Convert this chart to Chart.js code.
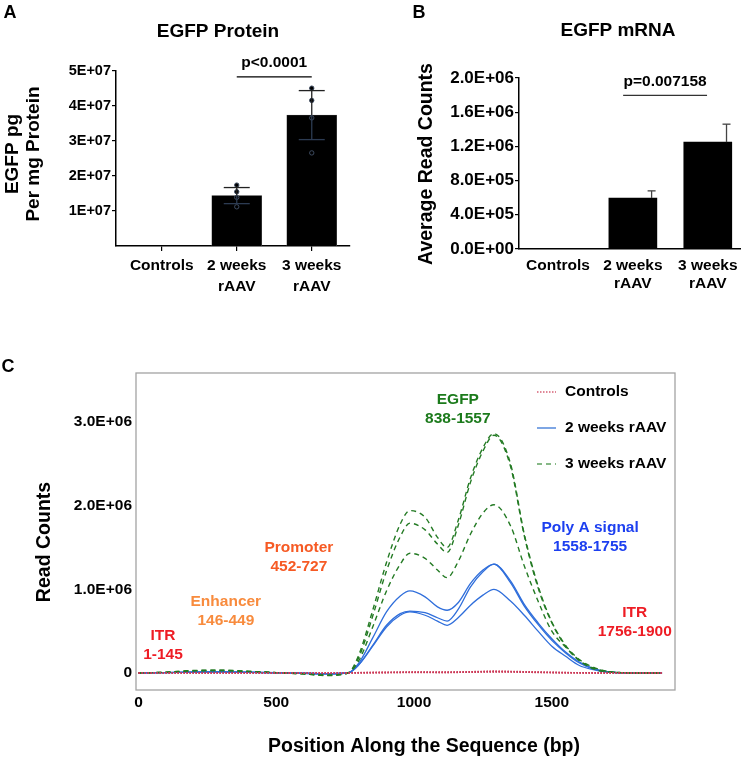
<!DOCTYPE html>
<html>
<head>
<meta charset="utf-8">
<script src="https://cdn.jsdelivr.net/npm/chart.js@4.4.1/dist/chart.umd.min.js"></script>
<style>
  html, body { margin: 0; padding: 0; background: #fff; }
  #page { position: relative; width: 748px; height: 759px; overflow: hidden; }
  .panel { position: absolute; }
</style>
</head>
<body>
<div id="page">
  <div class="panel" style="left:0;top:0;width:370px;height:300px"><canvas id="protein"></canvas></div>
  <div class="panel" style="left:370px;top:0;width:378px;height:300px"><canvas id="mrna"></canvas></div>
  <div class="panel" style="left:0;top:330px;width:748px;height:429px"><canvas id="coverage"></canvas></div>
</div>
<script>
// ---- data -----------------------------------------------------------------
var groups = ['Controls', '2 weeks rAAV', '3 weeks rAAV'];
var groupTickLabels = ['Controls', ['2 weeks', 'rAAV'], ['3 weeks', 'rAAV']];
var groupIndex = [0, 1, 2];

// A: EGFP protein (pg per mg protein)
var proteinMean = [0, 1.44e7, 3.74e7];
var proteinSD = [0, 0.23e7, 0.70e7];
var proteinDots2w = [1.74e7, 1.55e7, 1.39e7, 1.12e7];
var proteinDots3w = [4.51e7, 4.16e7, 3.66e7, 2.66e7];
var proteinTicks = [1e7, 2e7, 3e7, 4e7, 5e7];
var proteinTickLabels = ['1E+07', '2E+07', '3E+07', '4E+07', '5E+07'];
var proteinP = 'p<0.0001';

// B: EGFP mRNA (average read counts)
var mrnaMean = [3e3, 5.96e5, 1.25e6];
var mrnaSD = [0, 0.84e5, 2.1e5];
var mrnaTicks = [0, 4e5, 8e5, 1.2e6, 1.6e6, 2e6];
var mrnaTickLabels = ['0.0E+00', '4.0E+05', '8.0E+05', '1.2E+06', '1.6E+06', '2.0E+06'];
var mrnaP = 'p=0.007158';

// C: read coverage along the vector (read counts, millions)
var pos = [0, 100, 200, 300, 400, 500, 600, 680, 760, 800, 850, 900, 950, 985, 1040, 1085, 1120,
           1160, 1205, 1250, 1290, 1350, 1400, 1450, 1500, 1550, 1600, 1650, 1700, 1750, 1800, 1900];
var ctrlA = [0, 0, 0, 0, 0, 0, 0, 0, 0.002, 0.004, 0.006, 0.008, 0.01, 0.011, 0.011, 0.01, 0.01,
             0.012, 0.015, 0.019, 0.022, 0.019, 0.015, 0.011, 0.008, 0.005, 0.003, 0.002, 0.001, 0, 0, 0];
var ctrlB = [0, 0, 0, 0, 0, 0, 0, 0, 0.001, 0.003, 0.005, 0.006, 0.008, 0.009, 0.009, 0.008, 0.008,
             0.01, 0.012, 0.015, 0.017, 0.015, 0.012, 0.009, 0.006, 0.004, 0.002, 0.001, 0, 0, 0, 0];
var ctrlC = [0, 0, 0, 0, 0, 0, 0, 0, 0.001, 0.002, 0.004, 0.005, 0.006, 0.007, 0.007, 0.006, 0.006,
             0.008, 0.01, 0.012, 0.014, 0.012, 0.01, 0.007, 0.005, 0.003, 0.002, 0.001, 0, 0, 0, 0];
var wk2A = [0, 0.005, 0.012, 0.015, 0.01, 0.003, -0.003, -0.01, 0, 0.12, 0.42, 0.73, 0.92, 0.98, 0.91, 0.79, 0.75,
            0.84, 1.07, 1.23, 1.30, 1.10, 0.82, 0.60, 0.41, 0.25, 0.13, 0.055, 0.015, 0.004, 0, 0];
var wk2B = [0, 0.005, 0.011, 0.014, 0.009, 0.003, -0.003, -0.01, 0, 0.10, 0.33, 0.57, 0.71, 0.74, 0.72, 0.66, 0.62,
            0.76, 1.03, 1.21, 1.30, 1.08, 0.80, 0.58, 0.39, 0.24, 0.12, 0.05, 0.015, 0.004, 0, 0];
var wk2C = [0, 0.004, 0.01, 0.013, 0.008, 0.002, -0.003, -0.009, 0, 0.10, 0.32, 0.55, 0.69, 0.73, 0.69, 0.62, 0.57,
            0.66, 0.81, 0.93, 1.00, 0.86, 0.69, 0.50, 0.32, 0.20, 0.09, 0.04, 0.01, 0.003, 0, 0];
var wk3A = [0, 0.01, 0.03, 0.035, 0.02, 0.005, -0.01, -0.03, 0, 0.22, 0.75, 1.32, 1.78, 1.94, 1.86, 1.62, 1.50,
            1.82, 2.33, 2.69, 2.86, 2.50, 1.66, 1.04, 0.61, 0.33, 0.16, 0.07, 0.02, 0.005, 0, 0];
var wk3B = [0, 0.01, 0.028, 0.03, 0.02, 0.005, -0.01, -0.028, 0, 0.19, 0.68, 1.22, 1.63, 1.79, 1.71, 1.54, 1.44,
            1.76, 2.28, 2.65, 2.84, 2.47, 1.64, 1.02, 0.60, 0.32, 0.15, 0.06, 0.02, 0.005, 0, 0];
var wk3C = [0, 0.008, 0.025, 0.03, 0.018, 0.004, -0.01, -0.025, 0, 0.15, 0.55, 0.98, 1.30, 1.43, 1.37, 1.23, 1.14,
            1.33, 1.66, 1.91, 2.01, 1.76, 1.28, 0.86, 0.50, 0.31, 0.15, 0.05, 0.015, 0.005, 0, 0];
var coverageTicks = [0, 1, 2, 3];
var coverageTickLabels = ['0', '1.0E+06', '2.0E+06', '3.0E+06'];
var positionTicks = [0, 500, 1000, 1500];
var positionTickLabels = ['0', '500', '1000', '1500'];

// vector elements: label lines, centre (bp) and height of first line (millions)
var regions = [
  { lines: ['ITR', '1-145'], bp: 89, y: 0.45, color: '#ee1c24' },
  { lines: ['Enhancer', '146-449'], bp: 317, y: 0.85, color: '#f88b3d' },
  { lines: ['Promoter', '452-727'], bp: 582, y: 1.50, color: '#f65a24' },
  { lines: ['EGFP', '838-1557'], bp: 1159, y: 3.27, color: '#1b7a1b' },
  { lines: ['Poly A signal', '1558-1755'], bp: 1639, y: 1.74, color: '#1c3ff0' },
  { lines: ['ITR', '1756-1900'], bp: 1801, y: 0.72, color: '#ee1c24' }
];

// ---- helpers --------------------------------------------------------------
var FONT = "'Liberation Sans', Arial, Helvetica, sans-serif";
Chart.defaults.font.family = FONT;
Chart.defaults.font.weight = 'bold';
Chart.defaults.color = '#000';
Chart.defaults.animation = false;
Chart.defaults.plugins.legend.display = false;
Chart.defaults.plugins.tooltip.enabled = false;

function text(ctx, str, x, y, size, color, rotate) {
  ctx.save();
  ctx.font = 'bold ' + size + 'px ' + FONT;
  ctx.fillStyle = color || '#000';
  ctx.textAlign = 'center';
  ctx.textBaseline = 'middle';
  ctx.translate(x, y);
  if (rotate) ctx.rotate(-Math.PI / 2);
  ctx.fillText(str, 0, 0);
  ctx.restore();
}

function line(ctx, x1, y1, x2, y2, color, width) {
  ctx.beginPath();
  ctx.moveTo(x1, y1);
  ctx.lineTo(x2, y2);
  ctx.strokeStyle = color;
  ctx.lineWidth = width;
  ctx.stroke();
}

function fixedTicks(values) {
  return function (scale) { scale.ticks = values.map(function (v) { return { value: v }; }); };
}

function axisStyle(extra) {
  return Object.assign({
    grid: { display: true, drawOnChartArea: false, drawTicks: true, tickLength: 4, color: '#000', lineWidth: 1.2, offset: false },
    border: { display: true, color: '#000', width: 1.5 }
  }, extra);
}

// ---- A: protein -----------------------------------------------------------
new Chart(document.getElementById('protein'), {
  type: 'bar',
  data: {
    datasets: [
      {
        type: 'scatter',
        data: proteinDots2w.map(function (v) { return { x: 1, y: v }; })
          .concat(proteinDots3w.map(function (v) { return { x: 2, y: v }; })),
        pointRadius: 2.2, pointBackgroundColor: '#000', pointBorderColor: '#3d4b60', pointBorderWidth: 1
      },
      {
        type: 'bar',
        data: groupIndex.map(function (i) { return { x: i, y: proteinMean[i] }; }),
        backgroundColor: '#000', borderColor: '#555', borderWidth: 0.6, barThickness: 50
      }
    ]
  },
  options: {
    responsive: true, maintainAspectRatio: false,
    layout: { padding: { top: 71, right: 20, bottom: 0, left: 0 } },
    scales: {
      x: axisStyle({
        type: 'linear', min: -0.61, max: 2.51, offset: false,
        afterBuildTicks: fixedTicks(groupIndex),
        afterFit: function (s) { s.height = 54; },
        grid: { display: true, drawOnChartArea: false, tickLength: 5, color: '#000', lineWidth: 1.2, offset: false },
        ticks: {
          callback: function (v) { return groupTickLabels[v]; },
          font: { size: 15.5, weight: 'bold', lineHeight: 1.3 }, padding: 5, maxRotation: 0, autoSkip: false
        }
      }),
      y: axisStyle({
        min: 0, max: 5e7,
        afterBuildTicks: fixedTicks(proteinTicks),
        afterFit: function (s) { s.width = 116; },
        ticks: {
          callback: function (v, i) { return proteinTickLabels[i]; },
          font: { size: 14.5, weight: 'bold' }, padding: 1, autoSkip: false
        }
      })
    }
  },
  plugins: [{
    id: 'proteinOverlay',
    afterDatasetsDraw: function (chart) {
      var ctx = chart.ctx, x = chart.scales.x, y = chart.scales.y;
      proteinMean.forEach(function (m, i) {
        var sd = proteinSD[i];
        if (!sd) return;
        var px = x.getPixelForValue(i);
        var top = y.getPixelForValue(m + sd), mid = y.getPixelForValue(m), bot = y.getPixelForValue(m - sd);
        line(ctx, px, top, px, mid, '#222', 1.3);
        line(ctx, px - 13, top, px + 13, top, '#222', 1.3);
        line(ctx, px, mid, px, bot, '#2c3b52', 1.3);
        line(ctx, px - 13, bot, px + 13, bot, '#2c3b52', 1.3);
      });
      // significance bracket
      var by = y.getPixelForValue(4.83e7);
      line(ctx, x.getPixelForValue(1), by, x.getPixelForValue(2), by, '#000', 1.2);
      text(ctx, proteinP, x.getPixelForValue(1.5), y.getPixelForValue(5.23e7), 15.5);
    },
    afterDraw: function (chart) {
      var ctx = chart.ctx;
      text(ctx, 'A', 10, 13, 18);
      text(ctx, 'EGFP Protein', 218, 32, 19);
      text(ctx, 'EGFP pg', 13, 154, 19, '#000', true);
      text(ctx, 'Per mg Protein', 34, 154, 19, '#000', true);
    }
  }]
});

// ---- B: mRNA --------------------------------------------------------------
new Chart(document.getElementById('mrna'), {
  type: 'bar',
  data: {
    datasets: [{
      data: groupIndex.map(function (i) { return { x: i, y: mrnaMean[i] }; }),
      backgroundColor: '#000', barThickness: 48
    }]
  },
  options: {
    responsive: true, maintainAspectRatio: false,
    layout: { padding: { top: 78, right: 8, bottom: 0, left: 0 } },
    scales: {
      x: axisStyle({
        type: 'linear', min: -0.52, max: 2.43, offset: false,
        afterBuildTicks: fixedTicks(groupIndex),
        afterFit: function (s) { s.height = 51; },
        grid: { display: false, drawTicks: false, offset: false },
        ticks: {
          callback: function (v) { return groupTickLabels[v]; },
          font: { size: 15.5, weight: 'bold', lineHeight: 1.2 }, padding: 7, maxRotation: 0, autoSkip: false
        }
      }),
      y: axisStyle({
        min: 0, max: 2e6,
        afterBuildTicks: fixedTicks(mrnaTicks),
        afterFit: function (s) { s.width = 149; },
        ticks: {
          callback: function (v, i) { return mrnaTickLabels[i]; },
          font: { size: 17, weight: 'bold' }, padding: 1, autoSkip: false
        }
      })
    }
  },
  plugins: [{
    id: 'mrnaOverlay',
    afterDatasetsDraw: function (chart) {
      var ctx = chart.ctx, x = chart.scales.x, y = chart.scales.y;
      mrnaMean.forEach(function (m, i) {
        var sd = mrnaSD[i];
        if (!sd) return;
        var px = x.getPixelForValue(i + 0.25);
        var top = y.getPixelForValue(m + sd), mid = y.getPixelForValue(m);
        line(ctx, px, top, px, mid, '#444', 1.3);
        line(ctx, px - 4, top, px + 4, top, '#444', 1.3);
      });
      var by = y.getPixelForValue(1.796e6);
      line(ctx, x.getPixelForValue(0.87), by, x.getPixelForValue(1.99), by, '#333', 1.2);
      text(ctx, mrnaP, x.getPixelForValue(1.43), y.getPixelForValue(1.96e6), 15.5);
    },
    afterDraw: function (chart) {
      var ctx = chart.ctx;
      text(ctx, 'B', 49, 13, 18);
      text(ctx, 'EGFP mRNA', 248, 31, 19);
      text(ctx, 'Average Read Counts', 57, 164, 19.5, '#000', true);
    }
  }]
});

// ---- C: coverage ----------------------------------------------------------
function series(values, label, color, dash, width) {
  return {
    label: label,
    data: pos.map(function (p, i) { return { x: p, y: values[i] }; }),
    borderColor: color, borderDash: dash, borderWidth: width,
    pointRadius: 0, fill: false, cubicInterpolationMode: 'monotone'
  };
}
var ctrlColor = '#cc3a58', wk2Color = '#2f6edb', wk3Color = '#237a23';
var legendStyles = [
  { color: '#e08797', dash: [1.5, 1.5], width: 2 },
  { color: '#7ea6e4', dash: [], width: 2 },
  { color: '#86b886', dash: [5, 4], width: 2 }
];

new Chart(document.getElementById('coverage'), {
  type: 'line',
  data: {
    datasets: [
      series(ctrlA, groups[0], ctrlColor, [1.5, 1.5], 1.6),
      series(ctrlB, groups[0], ctrlColor, [1.5, 1.5], 1.6),
      series(ctrlC, groups[0], ctrlColor, [1.5, 1.5], 1.6),
      series(wk3A, groups[2], wk3Color, [5, 4], 1.4),
      series(wk3B, groups[2], wk3Color, [5, 4], 1.4),
      series(wk3C, groups[2], wk3Color, [5, 4], 1.4),
      series(wk2A, groups[1], wk2Color, [], 1.3),
      series(wk2B, groups[1], wk2Color, [], 1.3),
      series(wk2C, groups[1], wk2Color, [], 1.3)
    ]
  },
  options: {
    responsive: true, maintainAspectRatio: false,
    layout: { padding: { top: 43, right: 73, bottom: 0, left: 0 } },
    scales: {
      x: {
        type: 'linear', min: -9, max: 1947,
        afterBuildTicks: fixedTicks(positionTicks),
        afterFit: function (s) { s.height = 69; },
        grid: { display: false, drawTicks: false },
        border: { display: false },
        ticks: {
          callback: function (v, i) { return positionTickLabels[i]; },
          font: { size: 15.5, weight: 'bold' }, padding: 3, maxRotation: 0, autoSkip: false
        }
      },
      y: {
        min: -0.203, max: 3.584,
        afterBuildTicks: fixedTicks(coverageTicks),
        afterFit: function (s) { s.width = 136; },
        grid: { display: false, drawTicks: false },
        border: { display: false },
        ticks: {
          callback: function (v, i) { return coverageTickLabels[i]; },
          font: { size: 15.5, weight: 'bold' }, padding: 4, autoSkip: false
        }
      }
    }
  },
  plugins: [{
    id: 'coverageOverlay',
    afterDraw: function (chart) {
      var ctx = chart.ctx, a = chart.chartArea, x = chart.scales.x, y = chart.scales.y;
      ctx.save();
      ctx.strokeStyle = '#a3a3a3';
      ctx.lineWidth = 1.3;
      ctx.strokeRect(a.left, a.top, a.right - a.left, a.bottom - a.top);
      ctx.restore();

      regions.forEach(function (r) {
        var px = x.getPixelForValue(r.bp), py = y.getPixelForValue(r.y);
        r.lines.forEach(function (s, k) { text(ctx, s, px, py + k * 19, 15.5, r.color); });
      });

      groups.forEach(function (g, k) {
        var st = legendStyles[k], ly = 62 + k * 36;
        ctx.save();
        ctx.setLineDash(st.dash);
        line(ctx, 537, ly, 556, ly, st.color, st.width);
        ctx.restore();
        ctx.save();
        ctx.font = 'bold 15.5px ' + FONT;
        ctx.fillStyle = '#000';
        ctx.textBaseline = 'middle';
        ctx.fillText(g, 565, ly);
        ctx.restore();
      });

      text(ctx, 'C', 8, 37, 18);
      text(ctx, 'Read Counts', 45, 212, 19.5, '#000', true);
      text(ctx, 'Position Along the Sequence (bp)', 424, 417, 19.5);
    }
  }]
});
</script>
</body>
</html>
